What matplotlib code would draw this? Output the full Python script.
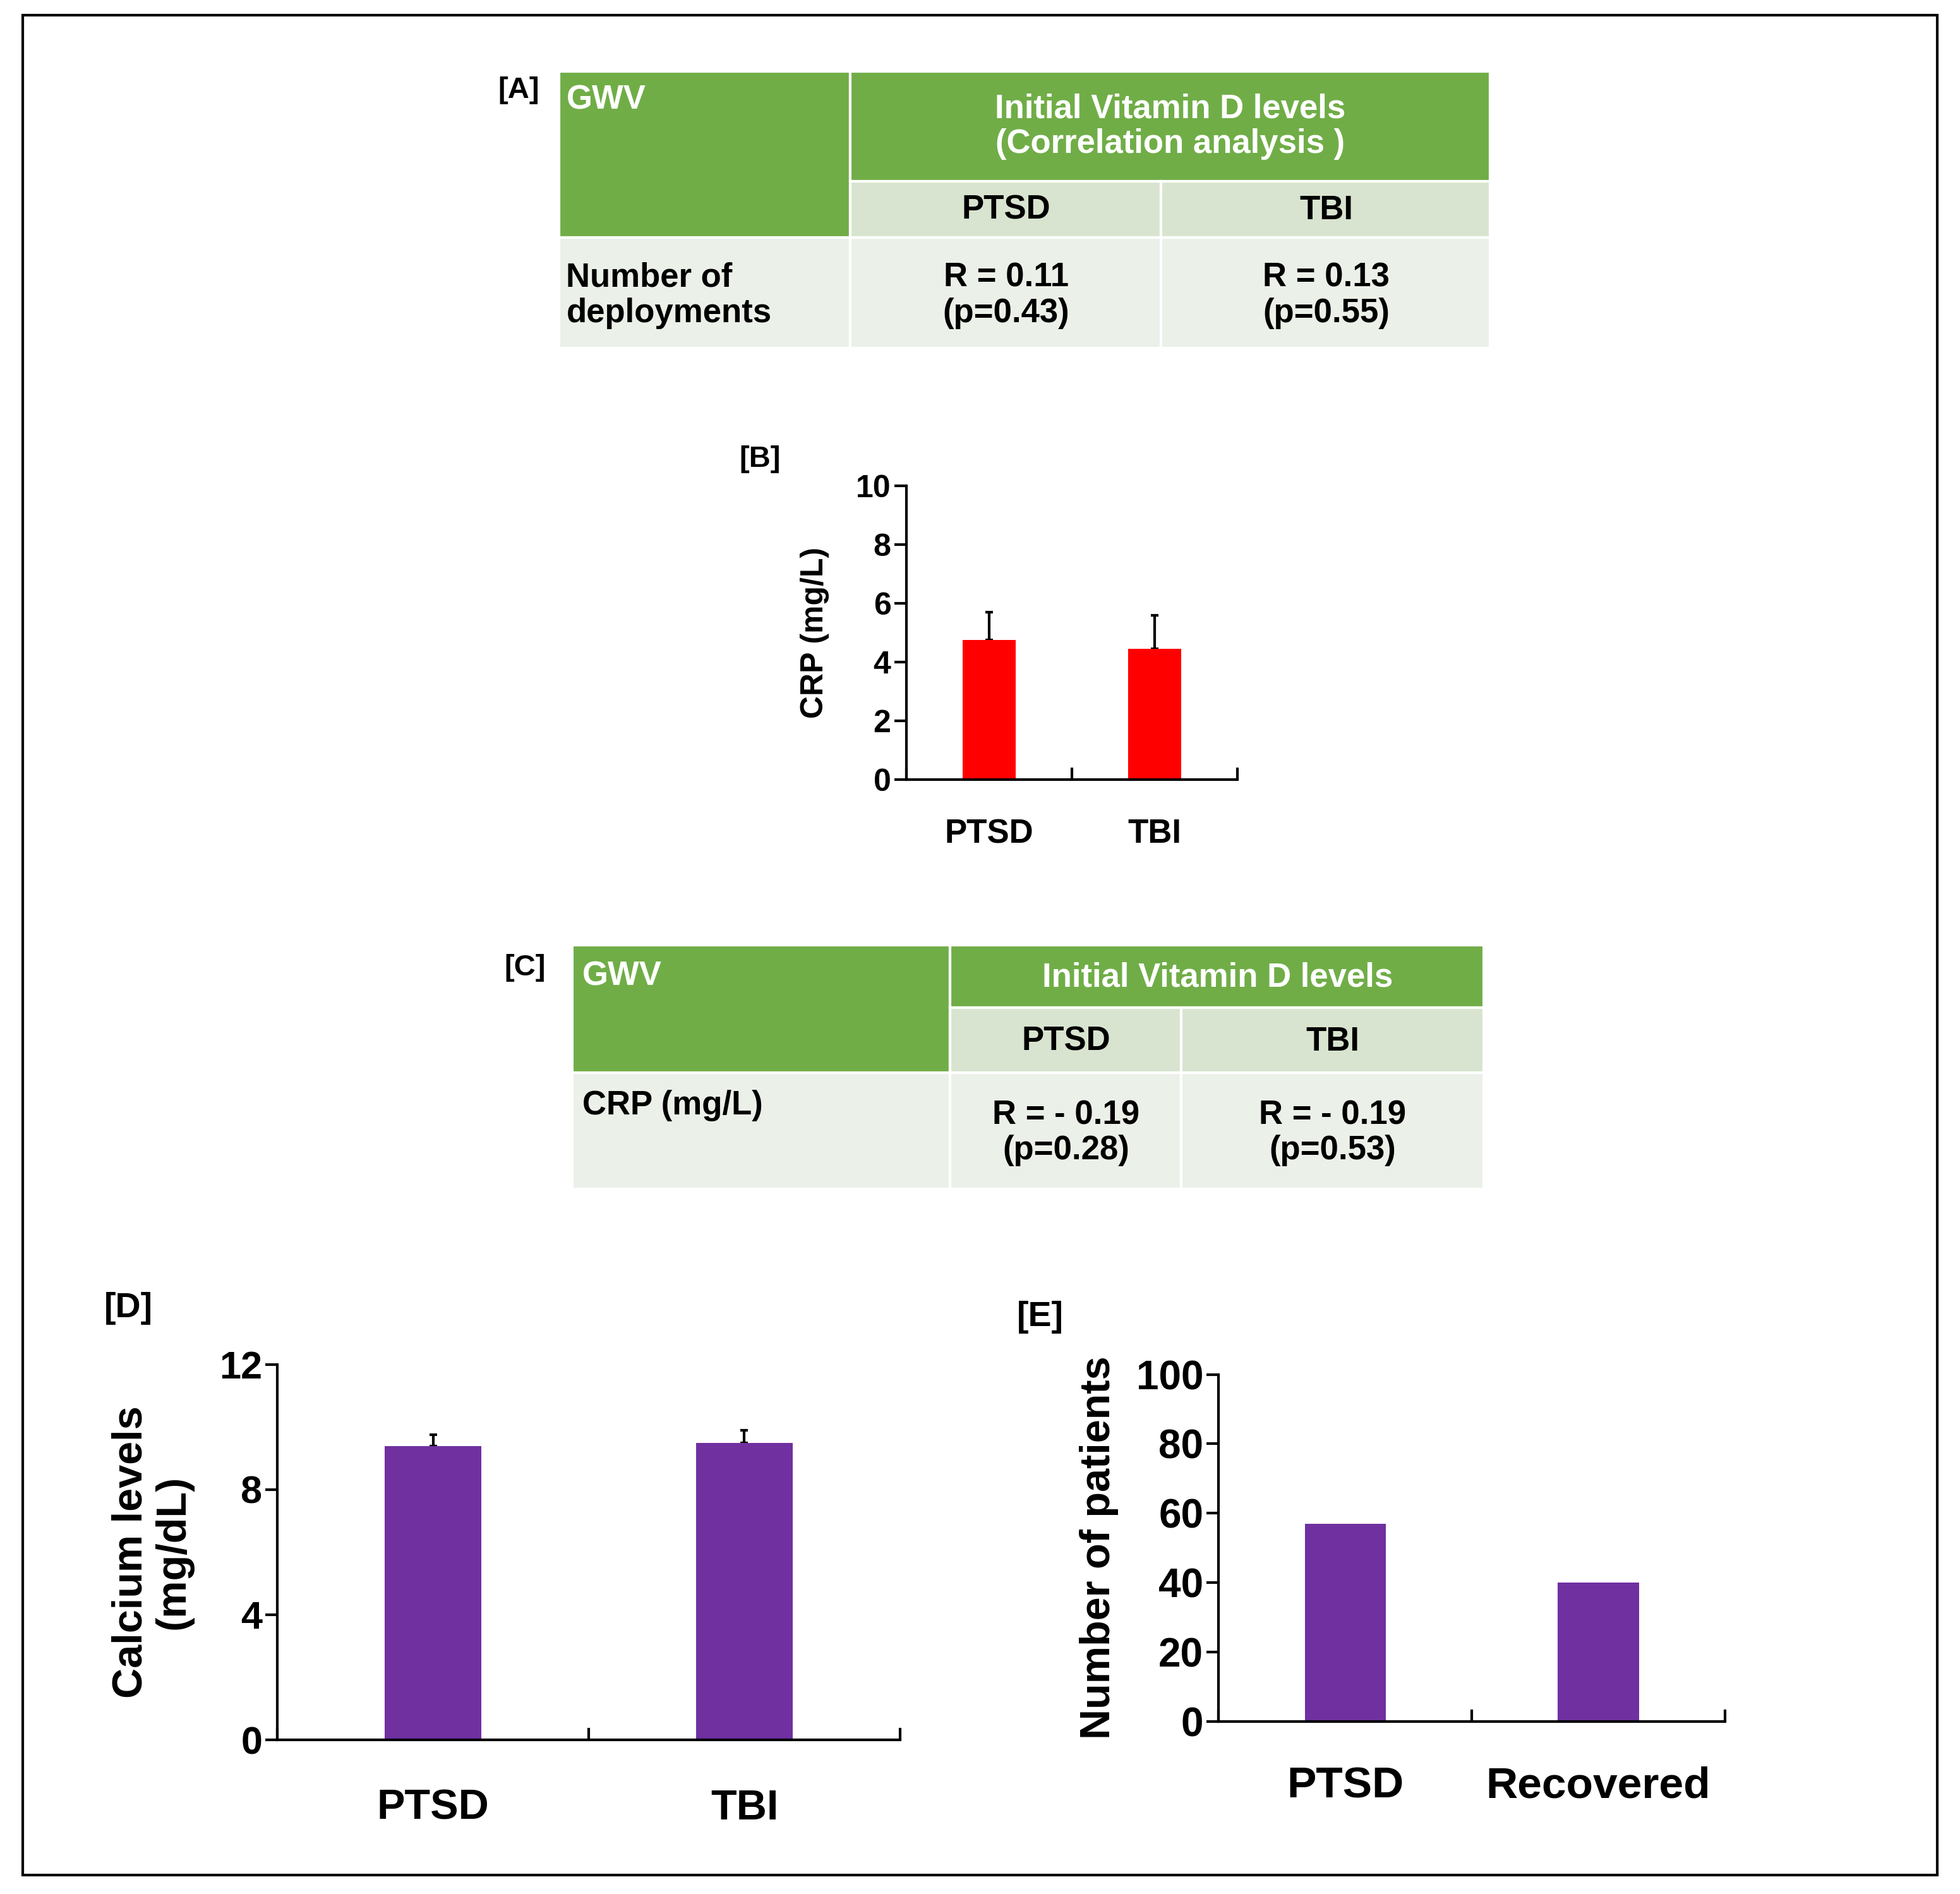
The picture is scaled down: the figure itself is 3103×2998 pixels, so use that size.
import matplotlib
matplotlib.use('Agg')
import matplotlib.pyplot as plt
from matplotlib.patches import Rectangle

plt.rcParams['font.family'] = ['Liberation Sans', 'DejaVu Sans']
plt.rcParams['font.weight'] = 'bold'

W, H = 1568.0, 1513.0
GREEN = '#70AD47'
LIGHT = '#D8E4CF'
DATA = '#EBF0E8'
RED = '#FF0000'
PURPLE = '#7030A0'

# data
b_cats = ['PTSD', 'TBI']
b_vals = [4.75, 4.45]
b_err = [0.95, 1.15]
d_cats = ['PTSD', 'TBI']
d_vals = [9.4, 9.5]
d_err = [0.35, 0.4]
e_cats = ['PTSD', 'Recovered']
e_vals = [57, 40]
a_rows = ['Number of\ndeployments']
a_cells = [['R = 0.11\n(p=0.43)', 'R = 0.13\n(p=0.55)']]
c_rows = ['CRP (mg/L)']
c_cells = [['R = - 0.19\n(p=0.28)', 'R = - 0.19\n(p=0.53)']]

fig = plt.figure(figsize=(31.03, 29.98), dpi=100)


def fr(x0, y0, x1, y1):
    return [x0 / W, 1 - y1 / H, (x1 - x0) / W, (y1 - y0) / H]


def rect(x0, y0, x1, y1, color):
    fig.add_artist(Rectangle((x0 / W, 1 - y1 / H), (x1 - x0) / W, (y1 - y0) / H,
                             transform=fig.transFigure, facecolor=color,
                             edgecolor='white', linewidth=3))


def txt(x, y, s, ha='center', va='center', size=38, color='black'):
    fig.text(x / W, 1 - y / H, s, ha=ha, va=va, fontsize=size, color=color,
             fontweight='bold', linespacing=1.15)


# border
fig.add_artist(Rectangle((18 / W, 1 - 1498 / H), (1550 - 18) / W, (1498 - 12) / H,
                         transform=fig.transFigure, fill=False, edgecolor='black', linewidth=3))

# table A
rect(447, 57, 680, 190, GREEN)
rect(680, 57, 1192, 145, GREEN)
rect(680, 145, 929, 190, LIGHT)
rect(929, 145, 1192, 190, LIGHT)
rect(447, 190, 680, 278, DATA)
rect(680, 190, 929, 278, DATA)
rect(929, 190, 1192, 278, DATA)
txt(453, 80, 'GWV', ha='left', color='white')
txt(936, 101, 'Initial Vitamin D levels\n(Correlation analysis )', color='white')
txt(805, 168, 'PTSD')
txt(1061, 168, 'TBI')
txt(453, 236, a_rows[0], ha='left')
txt(805, 236, a_cells[0][0])
txt(1061, 236, a_cells[0][1])
txt(415, 72, '[A]', size=34)

# table C
rect(458, 755, 760, 857, GREEN)
rect(760, 755, 1187, 805, GREEN)
rect(760, 805, 945, 857, LIGHT)
rect(945, 805, 1187, 857, LIGHT)
rect(458, 857, 760, 950, DATA)
rect(760, 857, 945, 950, DATA)
rect(945, 857, 1187, 950, DATA)
txt(466, 780, 'GWV', ha='left', color='white')
txt(974, 781, 'Initial Vitamin D levels', color='white')
txt(853, 832, 'PTSD')
txt(1066, 832, 'TBI')
txt(466, 883, c_rows[0], ha='left')
txt(853, 905, c_cells[0][0])
txt(1066, 905, c_cells[0][1])
txt(420, 773, '[C]', size=34)


def bar_axes(pos, cats, vals, err, color, ylim, ticks, width, fs_tick, fs_cat):
    ax = fig.add_axes(pos)
    xs = [i + 0.5 for i in range(len(cats))]
    ax.bar(xs, vals, width=width, color=color, zorder=2)
    if err is not None:
        ax.errorbar(xs, vals, yerr=[[0] * len(err), err], fmt='none', ecolor='black',
                    elinewidth=3, capsize=4, capthick=3, zorder=1)
    ax.set_xlim(0, len(cats))
    ax.set_ylim(*ylim)
    ax.set_yticks(ticks)
    ax.set_xticks(range(len(cats) + 1))
    ax.set_xticklabels([])
    for x, c in zip(xs, cats):
        ax.text(x, -0.13 * (ylim[1] - ylim[0]), c, ha='center', va='top',
                fontsize=fs_cat, fontweight='bold')
    for s in ['top', 'right']:
        ax.spines[s].set_visible(False)
    for s in ['left', 'bottom']:
        ax.spines[s].set_linewidth(3)
    ax.tick_params(axis='both', width=3, length=14, labelsize=fs_tick)
    ax.tick_params(axis='x', direction='in', length=14)
    ax.tick_params(axis='y', direction='out')
    for lab in ax.get_yticklabels():
        lab.set_fontweight('bold')
    return ax


axB = bar_axes(fr(725, 388, 990, 623), b_cats, b_vals, b_err, RED, (0, 10),
               [0, 2, 4, 6, 8, 10], 0.32, 36, 38)
axB.set_ylabel('CRP (mg/L)', fontsize=36, fontweight='bold', labelpad=30)
txt(608, 367, '[B]', size=34)

axD = bar_axes(fr(222, 1090, 720, 1390), d_cats, d_vals, d_err, PURPLE, (0, 12),
               [0, 4, 8, 12], 0.31, 44, 48)
axD.set_ylabel('Calcium levels\n(mg/dL)', fontsize=48, fontweight='bold', labelpad=30,
               linespacing=1.1)
txt(103, 1045, '[D]', size=40)

axE = bar_axes(fr(975, 1098, 1380, 1375), e_cats, e_vals, None, PURPLE, (0, 100),
               [0, 20, 40, 60, 80, 100], 0.32, 46, 50)
axE.set_ylabel('Number of patients', fontsize=48, fontweight='bold', labelpad=20)
txt(832, 1052, '[E]', size=40)

fig.savefig('out.png', dpi=100)
